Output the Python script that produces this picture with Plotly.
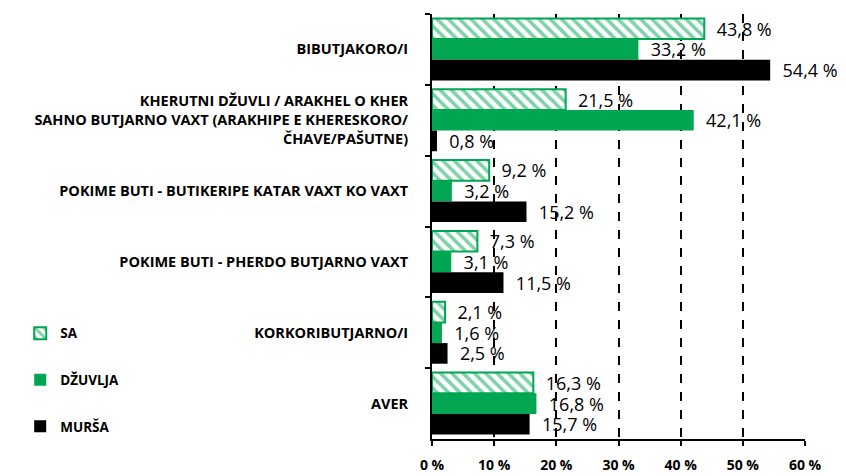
import plotly.graph_objects as go

categories = [
    "BIBUTJAKORO/I",
    "KHERUTNI DŽUVLI / ARAKHEL O KHER<br>SAHNO BUTJARNO VAXT (ARAKHIPE E KHERESKORO/<br>ČHAVE/PAŠUTNE)",
    "POKIME BUTI - BUTIKERIPE KATAR VAXT KO VAXT",
    "POKIME BUTI - PHERDO BUTJARNO VAXT",
    "KORKORIBUTJARNO/I",
    "AVER",
]
sa = [43.8, 21.5, 9.2, 7.3, 2.1, 16.3]
dzuvlja = [33.2, 42.1, 3.2, 3.1, 1.6, 16.8]
mursa = [54.4, 0.8, 15.2, 11.5, 2.5, 15.7]
x_ticks = [0, 10, 20, 30, 40, 50, 60]
x_tick_labels = ["0 %", "10 %", "20 %", "30 %", "40 %", "50 %", "60 %"]

GREEN = "#00A651"
FONT = "Open Sans"
TT = "\u00a0\u00a0%{x:.1f} %"

fig = go.Figure()
fig.add_trace(go.Bar(
    y=categories, x=sa, orientation="h", name="SA", legendgroup="a",
    marker=dict(color="white", line=dict(color=GREEN, width=2),
                pattern=dict(shape="\\", fgcolor=GREEN, bgcolor="white", size=8, solidity=0.45)),
    texttemplate=TT, textposition="outside", cliponaxis=False, constraintext="none",
))
fig.add_trace(go.Bar(
    y=categories, x=dzuvlja, orientation="h", name="DŽUVLJA", legendgroup="b",
    marker=dict(color=GREEN, line=dict(width=0)),
    texttemplate=TT, textposition="outside", cliponaxis=False, constraintext="none",
))
fig.add_trace(go.Bar(
    y=categories, x=mursa, orientation="h", name="MURŠA", legendgroup="c",
    marker=dict(color="black", line=dict(width=0)),
    texttemplate=TT, textposition="outside", cliponaxis=False, constraintext="none",
))

fig.update_traces(textfont=dict(family=FONT, size=18, color="black"))

fig.update_layout(
    width=838, height=468,
    margin=dict(l=424, r=41, t=6, b=37, autoexpand=False),
    paper_bgcolor="white", plot_bgcolor="white",
    barmode="group", bargap=0.125, bargroupgap=0,
    separators=", ",
    font=dict(family=FONT, color="black"),
    showlegend=True,
    legend=dict(x=-1.104, y=0.285, xanchor="left", yanchor="top",
                font=dict(family=FONT, size=13.5, color="black", weight="bold"),
                tracegroupgap=26, bgcolor="rgba(0,0,0,0)"),
    xaxis=dict(range=[0, 60], tickvals=x_ticks, ticktext=x_tick_labels,
               automargin=False,
               showgrid=True, gridcolor="black", griddash="dash", gridwidth=2,
               showline=True, linecolor="black", linewidth=2,
               ticks="outside", ticklen=5, tickwidth=2, tickcolor="black",
               ticklabelstandoff=7,
               tickfont=dict(family=FONT, size=14, color="black", weight="bold"),
               zeroline=False),
    yaxis=dict(autorange="reversed", automargin=False,
               showline=True, linecolor="black", linewidth=2,
               ticks="outside", ticklen=5, tickwidth=2, tickcolor="black",
               tickson="boundaries", ticklabelstandoff=19,
               tickfont=dict(family=FONT, size=14.5, color="black", weight="bold"),
               showgrid=False),
)

fig.write_html("out.html")
